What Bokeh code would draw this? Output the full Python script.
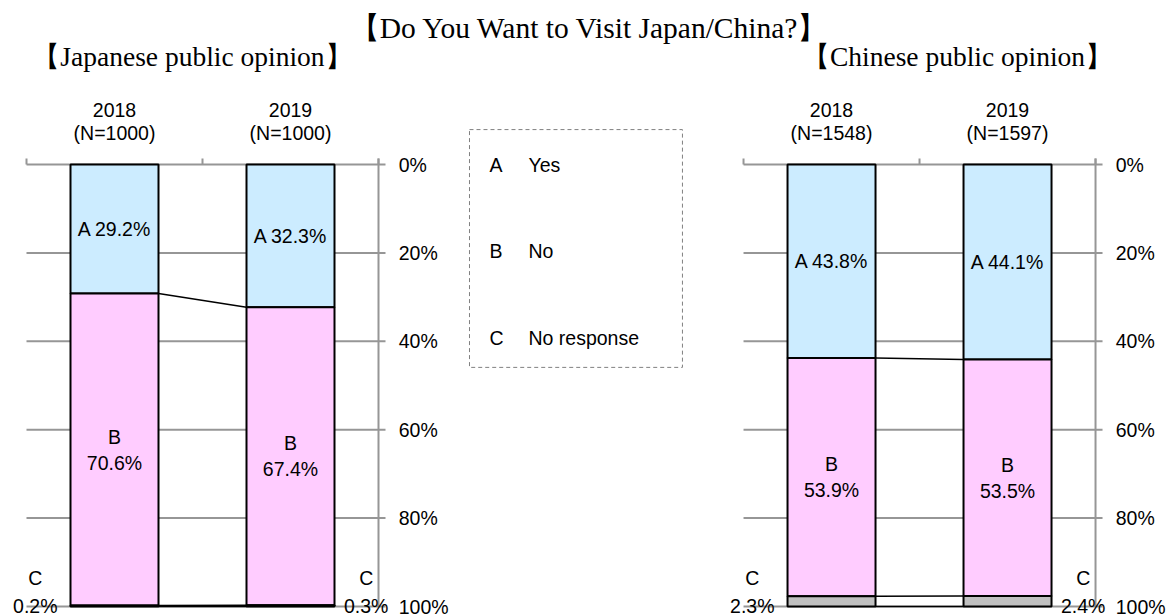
from bokeh.plotting import figure
from bokeh.models import Range1d
from bokeh.core.properties import value
from bokeh.embed import file_html
from bokeh.resources import INLINE

# ---------------- data ----------------
main_title = "【Do You Want to Visit Japan/China?】"
panel_titles = ["【Japanese public opinion】", "【Chinese public opinion】"]
years = ["2018", "2019"]
sample_sizes = [["(N=1000)", "(N=1000)"], ["(N=1548)", "(N=1597)"]]
legend_letters = ["A", "B", "C"]
legend_names = ["Yes", "No", "No response"]
yes_pct = [[29.2, 32.3], [43.8, 44.1]]
no_pct = [[70.6, 67.4], [53.9, 53.5]]
noresp_pct = [[0.2, 0.3], [2.3, 2.4]]
tick_values = [0, 20, 40, 60, 80, 100]
tick_labels = ["0%", "20%", "40%", "60%", "80%", "100%"]

# ---------------- style / layout ----------------
COLORS = ["#CCECFF", "#FFCCFF", "#C0C0C0"]
GRID = "#969696"
SANS = value("Liberation Sans")
SERIF = value("Liberation Serif")
FS = "19.5px"
W, H = 1173, 616
PXX = 176.0      # pixels per category
PXY = 4.42       # pixels per percent
TOP = 164.0      # frame pixel of the 0% line
LEFT = 26.0      # frame pixel of the left panel start
panel_offsets = [0.0, 4.074]
BAR_W = 0.5

p = figure(width=W, height=H, output_backend="svg", toolbar_location=None,
           x_range=Range1d(-LEFT / PXX, (W - LEFT) / PXX),
           y_range=Range1d((H - TOP) / PXY, -TOP / PXY),
           min_border=0, min_border_left=0, min_border_right=0,
           min_border_top=0, min_border_bottom=0)
p.axis.visible = False
p.grid.visible = False
p.outline_line_color = None
p.background_fill_color = "white"

tick_dx = 7 / PXX
tick_dy = 6 / PXY

# main title
p.text(x=[3.2], y=[0], text=[main_title], text_font=SERIF, text_font_size="29.5px",
       text_align="center", text_baseline="middle", y_offset=-137, text_color="black")

sub_x = [0.943, 1.216]
for k, off in enumerate(panel_offsets):
    # panel title
    p.text(x=[off + sub_x[k]], y=[0], text=[panel_titles[k]], text_font=SERIF,
           text_font_size="27.5px", text_align="center", text_baseline="middle",
           y_offset=-108, text_color="black")
    # horizontal lines (axis, grid, bottom)
    p.segment(x0=[off] * len(tick_values), y0=tick_values,
              x1=[off + 2 + tick_dx] * len(tick_values), y1=tick_values,
              line_color=GRID, line_width=2)
    # vertical axis
    p.segment(x0=[off + 2], y0=[-tick_dy], x1=[off + 2], y1=[100],
              line_color=GRID, line_width=2)
    # top ticks
    p.segment(x0=[off, off + 1, off + 2], y0=[0, 0, 0],
              x1=[off, off + 1, off + 2], y1=[-tick_dy] * 3,
              line_color=GRID, line_width=2)
    # tick labels
    p.text(x=[off + 2.115] * len(tick_values), y=tick_values, text=tick_labels,
           text_font=SANS, text_font_size=FS, text_align="left",
           text_baseline="middle", text_color="black")
    # category labels
    xs = [off + 0.5, off + 1.5]
    p.text(x=xs, y=[0, 0], text=years, text_font=SANS, text_font_size=FS,
           text_align="center", text_baseline="middle", y_offset=-55, text_color="black")
    p.text(x=xs, y=[0, 0], text=sample_sizes[k], text_font=SANS, text_font_size=FS,
           text_align="center", text_baseline="middle", y_offset=-32, text_color="black")

    a = yes_pct[k]
    b = no_pct[k]
    c = noresp_pct[k]
    ab = [a[i] + b[i] for i in range(2)]
    abc = [ab[i] + c[i] for i in range(2)]
    # stacked bars
    p.vbar(x=xs, width=BAR_W, bottom=[0, 0], top=a, fill_color=COLORS[0],
           line_color="black", line_width=2)
    p.vbar(x=xs, width=BAR_W, bottom=a, top=ab, fill_color=COLORS[1],
           line_color="black", line_width=2)
    p.vbar(x=xs, width=BAR_W, bottom=ab, top=abc, fill_color=COLORS[2],
           line_color="black", line_width=2)
    # series connectors
    for cum in (a, ab, abc):
        p.segment(x0=[off + 0.5 + BAR_W / 2], y0=[cum[0]],
                  x1=[off + 1.5 - BAR_W / 2], y1=[cum[1]],
                  line_color="black", line_width=1.5)
    # bar labels
    p.text(x=xs, y=[v / 2 for v in a], text=[f"A {v:.1f}%" for v in a],
           text_font=SANS, text_font_size=FS, text_align="center",
           text_baseline="middle", text_color="black")
    bmid = [a[i] + b[i] / 2 for i in range(2)]
    p.text(x=xs, y=bmid, text=["B", "B"], text_font=SANS, text_font_size=FS,
           text_align="center", text_baseline="middle", y_offset=-13, text_color="black")
    p.text(x=xs, y=bmid, text=[f"{v:.1f}%" for v in b], text_font=SANS,
           text_font_size=FS, text_align="center", text_baseline="middle",
           y_offset=13, text_color="black")
    # C labels
    cx = [off + 0.05, off + 1.93]
    p.text(x=cx, y=[100, 100], text=["C", "C"], text_font=SANS, text_font_size=FS,
           text_align="center", text_baseline="middle", y_offset=-29, text_color="black")
    p.text(x=cx, y=[100, 100], text=[f"{v:.1f}%" for v in c], text_font=SANS,
           text_font_size=FS, text_align="center", text_baseline="middle",
           y_offset=-1, text_color="black")

# legend box
p.quad(left=[2.517], right=[3.727], top=[-7.9], bottom=[45.9], fill_color=None,
       line_color="#808080", line_width=1, line_dash="4 3")
leg_y = [0, 19.6, 39.2]
p.text(x=[2.63] * 3, y=leg_y, text=legend_letters, text_font=SANS, text_font_size=FS,
       text_align="left", text_baseline="middle", text_color="black")
p.text(x=[2.852] * 3, y=leg_y, text=legend_names, text_font=SANS, text_font_size=FS,
       text_align="left", text_baseline="middle", text_color="black")

open("out.html", "w").write(file_html(p, INLINE))
